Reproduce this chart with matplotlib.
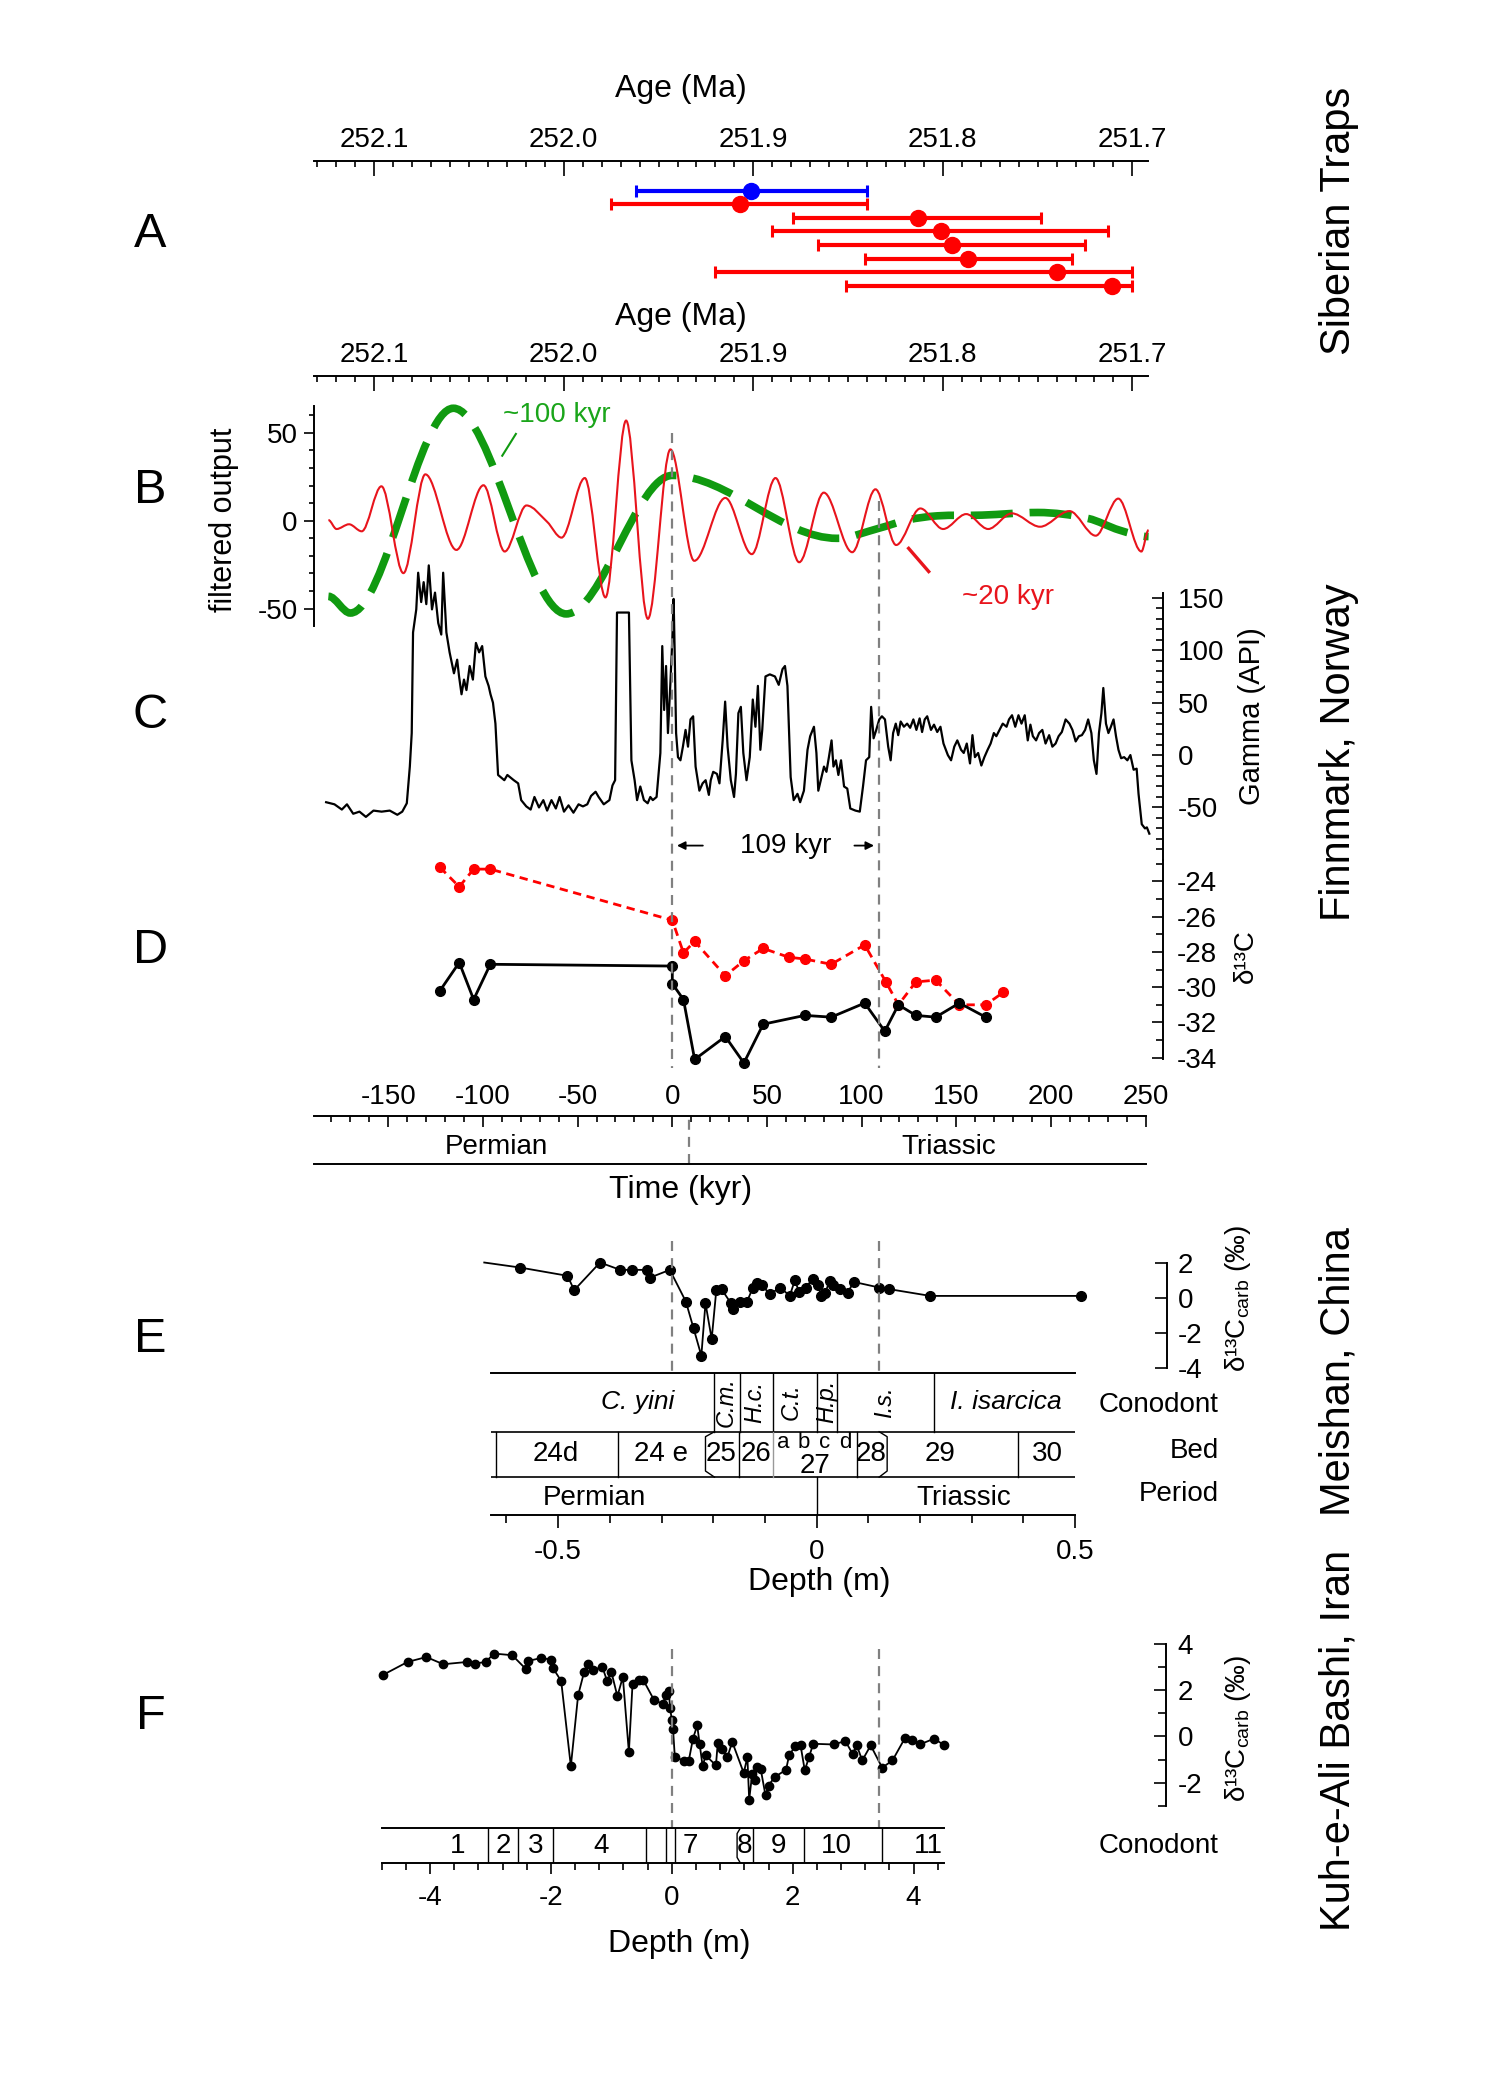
import numpy as np
import matplotlib
matplotlib.use("Agg")
import matplotlib.pyplot as plt
import matplotlib.transforms as mtransforms
from matplotlib.path import Path
from matplotlib.patches import PathPatch
from matplotlib.ticker import MultipleLocator, FixedLocator, FixedFormatter, FormatStrFormatter

plt.rcParams['font.family'] = ['Liberation Sans', 'DejaVu Sans']
plt.rcParams['axes.unicode_minus'] = False
plt.rcParams['mathtext.fontset'] = 'custom'
plt.rcParams['mathtext.rm'] = 'Liberation Sans'
plt.rcParams['mathtext.it'] = 'Liberation Sans:italic'

# ---------------- data ----------------
# A: Siberian Traps ages (Ma), top row first
sib_age = [251.901, 251.907, 251.813, 251.801, 251.795, 251.787, 251.740, 251.711]
sib_err_young = [0.061, 0.067, 0.065, 0.088, 0.070, 0.055, 0.040, 0.011]
sib_err_old = [0.061, 0.068, 0.066, 0.089, 0.071, 0.054, 0.180, 0.140]
sib_color = ['#0000ff', '#ff0000', '#ff0000', '#ff0000', '#ff0000', '#ff0000', '#ff0000', '#ff0000']

# B: filtered output (turning points)
f20_t = [-181.6, -177.3, -170.7, -164.0, -153.6, -142.0, -130.4, -114.0, -99.7, -88.5, -77.0, -66.1,
         -58.5, -46.2, -35.3, -24.4, -12.9, -1.0, 11.6, 28.0, 42.0, 54.5, 67.0, 80.0, 95.0, 107.3,
         118.2, 131.0, 143.0, 155.2, 166.8, 179.3, 194.2, 209.7, 223.6, 235.5, 247.7, 251.5]
f20_v = [0.4, -4.7, -2.0, -6.0, 19.6, -29.8, 26.4, -16.6, 20.2, -17.5, 8.7, -0.6,
         -9.6, 24.3, -43.6, 57.0, -55.8, 40.6, -22.8, 13.0, -19.0, 24.3, -23.6, 16.0, -17.9, 17.9,
         -13.8, 7.0, -4.7, 3.8, -4.7, 4.2, -3.4, 5.5, -8.5, 12.6, -17.5, -5.3]
f100_t = [-181.6, -170.0, -115.6, -56.0, 0.0, 87.0, 109.0, 124.0, 140.0, 163.5, 193.0, 219.6, 236.0, 251.5]
f100_v = [-43.0, -52.5, 64.0, -53.0, 25.8, -10.0, -4.3, 0.4, 2.8, 3.2, 4.7, 1.3, -5.3, -9.0]

# C: gamma log, Finnmark
gam_t = [-182.8, -178.4, -174.5, -171.8, -168.5, -165.2, -161.8, -157.8, -153.5, -149.2, -145.2, -142.6,
         -140.2, -138.6, -137.6, -136.9, -135.2, -134.2, -132.6, -131.3, -129.9, -128.6, -126.9, -125.3,
         -123.6, -122.0, -121.0, -119.3, -117.6, -115.3, -113.6, -112.6, -111.3, -110.0, -108.7, -107.0,
         -105.3, -103.7, -102.0, -100.4, -98.7, -97.0, -96.0, -94.7, -93.4, -92.0, -88.7, -87.1,
         -83.7, -81.4, -79.8, -77.1, -74.8, -72.8, -70.4, -68.1, -66.1, -63.8, -61.5, -59.5,
         -57.2, -54.8, -52.2, -49.5, -47.2, -44.9, -42.9, -40.5, -38.9, -36.2, -33.2, -31.6,
         -30.2, -29.2, -22.9, -21.6, -19.9, -18.6, -16.9, -15.0, -13.0, -11.6, -10.3, -8.3,
         -6.3, -5.3, -4.3, -3.3, -2.3, -1.0, 0.0, 0.7, 1.3, 2.0, 3.0, 4.3,
         5.6, 7.0, 8.3, 9.6, 11.0, 12.3, 14.3, 16.0, 17.6, 19.3, 20.3, 21.6,
         23.6, 24.9, 26.6, 27.9, 29.2, 30.9, 32.6, 33.6, 34.9, 36.2, 37.5, 39.2,
         40.9, 42.5, 43.9, 45.2, 46.5, 47.5, 49.2, 51.5, 54.2, 56.2, 58.2, 59.5,
         60.8, 62.5, 64.1, 66.1, 67.5, 69.5, 71.4, 72.8, 74.8, 76.1, 77.1, 78.8,
         80.1, 81.4, 82.7, 84.1, 85.1, 86.4, 87.7, 89.1, 90.7, 92.4, 94.0, 96.7,
         99.0, 100.7, 102.3, 104.0, 105.0, 106.3, 107.7, 109.3, 110.7, 112.3, 114.0, 115.3,
         116.6, 118.0, 119.3, 120.6, 122.3, 124.0, 125.6, 127.3, 128.9, 130.6, 131.9, 133.3,
         134.6, 136.6, 138.2, 139.9, 141.6, 143.2, 145.5, 147.2, 148.9, 150.5, 152.5, 153.9,
         155.5, 157.2, 158.5, 159.8, 161.5, 163.2, 164.8, 166.5, 168.1, 169.8, 171.1, 172.8,
         174.5, 176.5, 177.8, 179.4, 181.1, 182.8, 184.4, 186.1, 187.7, 189.1, 190.4, 192.1,
         193.7, 195.4, 197.1, 199.0, 200.7, 202.4, 204.0, 205.7, 207.7, 209.7, 211.3, 213.0,
         214.7, 216.3, 218.0, 219.6, 221.3, 222.6, 224.0, 225.3, 226.6, 227.6, 229.0, 230.3,
         231.6, 233.0, 234.3, 235.6, 237.0, 238.6, 240.3, 241.9, 243.6, 245.2, 246.2, 247.9,
         249.6, 250.6, 251.9]
gam_v = [-45, -47, -52, -47, -56, -54, -59, -53, -54, -53, -57, -54,
         -46, -11, 21, 117, 139, 174, 146, 165, 144, 181, 139, 155,
         126, 115, 174, 117, 98, 78, 91, 75, 58, 72, 62, 85,
         72, 107, 98, 104, 75, 66, 58, 50, 30, -19, -24, -19,
         -24, -27, -43, -49, -52, -40, -50, -43, -53, -43, -51, -40,
         -54, -48, -55, -47, -49, -47, -39, -35, -40, -47, -43, -29,
         -24, 136, 136, -5, -24, -43, -30, -43, -46, -40, -43, -40,
         2, 104, 43, 85, 21, 69, 110, 149, 94, 21, -2, -5,
         8, 24, 8, 34, 37, -11, -34, -27, -24, -38, -24, -16,
         -18, -27, 14, 51, 8, -24, -40, -18, 40, 46, 2, -24,
         -2, 53, 27, 66, 5, 24, 75, 77, 75, 67, 82, 85,
         66, -21, -43, -37, -45, -34, 5, 18, 27, 2, -34, -21,
         -11, -16, -2, 14, -11, -5, -19, -5, -30, -32, -51, -53,
         -54, -30, -5, -2, 46, 16, 24, 34, 37, 34, 8, -5,
         21, 30, 19, 32, 27, 30, 26, 34, 24, 35, 22, 34,
         37, 24, 29, 22, 27, 11, 0, -5, 8, 14, 5, 2,
         11, -8, 19, -2, 2, -10, -2, 5, 11, 21, 18, 24,
         30, 27, 34, 38, 27, 38, 30, 38, 14, 29, 18, 14,
         21, 24, 11, 19, 8, 11, 18, 22, 34, 30, 24, 13,
         18, 19, 24, 34, 21, -5, -18, 21, 40, 64, 30, 21,
         27, 34, 18, 5, -3, -2, -5, 0, -14, -13, -37, -66,
         -70, -69, -75]

# D: d13C org, Finnmark
d13_red_t = [-122.7, -112.5, -104.9, -96.1, 0.0, 5.9, 11.8, 28.0, 37.8, 48.0, 61.5, 70.0, 83.9, 101.6,
             112.8, 119.4, 128.6, 139.1, 151.6, 165.5, 174.7]
d13_red_v = [-23.2, -24.3, -23.3, -23.3, -26.2, -28.05, -27.4, -29.35, -28.5, -27.8, -28.3, -28.4, -28.7,
             -27.6, -29.7, -31.0, -29.7, -29.6, -31.0, -31.0, -30.3]
d13_blk_t = [-122.7, -112.5, -104.9, -96.1, 0.0, 0.0, 5.9, 11.8, 28.0, 37.8, 48.0, 70.0, 83.9, 101.6,
             112.2, 119.4, 128.6, 139.1, 151.6, 165.5]
d13_blk_v = [-30.2, -28.6, -30.7, -28.7, -28.8, -29.8, -30.7, -34.1, -32.8, -34.3, -32.1, -31.6, -31.7,
             -30.9, -32.5, -31.0, -31.6, -31.7, -30.9, -31.7]

# E: Meishan d13C carb vs depth (m)
mei_x = [-0.643, -0.573, -0.482, -0.469, -0.419, -0.380, -0.357, -0.329, -0.322, -0.284, -0.253, -0.238,
         -0.223, -0.215, -0.203, -0.194, -0.184, -0.166, -0.162, -0.149, -0.135, -0.123, -0.115, -0.105,
         -0.091, -0.070, -0.052, -0.042, -0.034, -0.021, -0.007, 0.003, 0.009, 0.017, 0.025, 0.032,
         0.045, 0.060, 0.072, 0.121, 0.140, 0.220, 0.511]
mei_v = [2.02, 1.73, 1.26, 0.44, 2.02, 1.60, 1.60, 1.60, 1.16, 1.60, -0.21, -1.75,
         -3.31, -0.30, -2.36, 0.46, 0.50, -0.30, -0.61, -0.21, -0.23, 0.59, 0.84, 0.72,
         0.21, 0.59, 0.11, 1.01, 0.34, 0.59, 1.10, 0.72, 0.11, 0.30, 0.97, 0.72,
         0.50, 0.30, 0.91, 0.59, 0.50, 0.11, 0.11]
mei_cono_edges = [-0.1976, -0.1487, -0.0845, 0.0, 0.0397, 0.228]
mei_cono_names = ['C. yini', 'C.m.', 'H.c.', 'C.t.', 'H.p.', 'I.s.', 'I. isarcica']
mei_cono_pos = [-0.347, -0.174, -0.120, -0.050, 0.020, 0.131, 0.366]
mei_bed_edges = [-0.62, -0.385, -0.151, -0.0845, 0.0774, 0.389]
mei_bed_names = ['24d', '24 e', '25', '26', '27', '28', '29', '30']
mei_bed_pos = [-0.505, -0.301, -0.184, -0.118, -0.004, 0.106, 0.238, 0.447]
mei_bed27_sub = ['a', 'b', 'c', 'd']
mei_bed27_pos = [-0.064, -0.024, 0.016, 0.055]
mei_period_pos = [-0.429, 0.284]
mei_marks = [-0.279, 0.121]

# F: Kuh-e-Ali Bashi d13C carb vs depth (m)
kuh_x = [-4.77, -4.37, -4.06, -3.78, -3.38, -3.25, -3.08, -2.94, -2.64, -2.42, -2.38, -2.16,
         -2.00, -1.97, -1.83, -1.67, -1.55, -1.45, -1.39, -1.31, -1.15, -1.07, -1.00, -0.90,
         -0.81, -0.71, -0.65, -0.55, -0.47, -0.29, -0.15, -0.10, -0.05, -0.03, 0.00, 0.02,
         0.05, 0.21, 0.28, 0.35, 0.42, 0.46, 0.51, 0.56, 0.73, 0.76, 0.83, 0.92,
         1.00, 1.19, 1.25, 1.28, 1.33, 1.38, 1.41, 1.47, 1.55, 1.60, 1.70, 1.89,
         1.94, 2.04, 2.13, 2.20, 2.27, 2.34, 2.68, 2.87, 2.99, 3.06, 3.15, 3.29,
         3.48, 3.65, 3.86, 3.98, 4.10, 4.34, 4.51]
kuh_v = [2.66, 3.21, 3.42, 3.11, 3.21, 3.14, 3.21, 3.57, 3.50, 2.92, 3.25, 3.38,
         3.31, 2.96, 2.39, -1.29, 1.77, 2.78, 3.14, 2.85, 3.00, 2.39, 2.78, 1.73,
         2.56, -0.68, 2.24, 2.42, 2.42, 1.55, 1.41, 1.77, 1.96, 1.24, 0.72, 0.33,
         -0.89, -1.06, -1.06, -0.10, 0.47, -0.32, -1.29, -0.82, -1.25, -0.29, -0.53, -0.89,
         -0.24, -1.58, -0.89, -2.73, -1.61, -1.90, -1.32, -1.40, -2.55, -2.12, -1.76, -1.44,
         -0.82, -0.43, -0.39, -1.47, -0.89, -0.32, -0.35, -0.20, -0.75, -0.39, -1.04, -0.39,
         -1.35, -1.04, -0.06, -0.14, -0.35, -0.10, -0.39]
kuh_cono_edges = [-3.04, -2.55, -1.97, -0.42, -0.10, 0.05, 1.35, 2.18, 3.48]
kuh_cono_names = ['1', '2', '3', '4', '7', '8', '9', '10', '11']
kuh_cono_pos = [-3.54, -2.78, -2.26, -1.17, 0.30, 1.21, 1.76, 2.72, 4.24]
kuh_bed8_left = 1.08
kuh_marks = [0.0, 3.43]

time_marks = [0.0, 109.0]
boundary_kyr = 9.0

# ---------------- layout helpers (reference px, 1123 x 1568) ----------------
W, H = 1123.0, 1568.0
fig = plt.figure(figsize=(14.96, 20.88), dpi=100)
GRAY = '#808080'


def frame(l, t, r, b):
    ax = fig.add_axes([l / W, 1 - b / H, (r - l) / W, (b - t) / H])
    ax.patch.set_visible(False)
    return ax


def ftext(x, y, s, **kw):
    kw.setdefault('ha', 'center')
    kw.setdefault('va', 'center')
    fig.text(x / W, 1 - y / H, s, **kw)


def only_spines(ax, keep):
    for s in ['left', 'right', 'top', 'bottom']:
        ax.spines[s].set_visible(s in keep)
        ax.spines[s].set_linewidth(1.4)


def vdash(ax, x, y0, y1):
    tr = mtransforms.blended_transform_factory(ax.transData, fig.transFigure)
    ax.plot([x, x], [1 - y0 / H, 1 - y1 / H], transform=tr, color=GRAY, lw=1.6,
            ls=(0, (4.5, 3.2)), clip_on=False)


def smooth_line(ax, ts, vs, **kw):
    ts = np.asarray(ts, float)
    vs = np.asarray(vs, float)
    n = len(ts)
    slope = np.zeros(n)
    for i in range(1, n - 1):
        if (vs[i] - vs[i - 1]) * (vs[i + 1] - vs[i]) > 0:
            slope[i] = (vs[i + 1] - vs[i - 1]) / (ts[i + 1] - ts[i - 1])
    verts = [(ts[0], vs[0])]
    codes = [Path.MOVETO]
    for i in range(1, n):
        h = (ts[i] - ts[i - 1]) / 3.0
        verts += [(ts[i - 1] + h, vs[i - 1] + slope[i - 1] * h), (ts[i] - h, vs[i] - slope[i] * h), (ts[i], vs[i])]
        codes += [Path.CURVE4] * 3
    ax.add_patch(PathPatch(Path(verts, codes), fill=False, clip_on=False, **kw))


TICK = 20
LAB = 23

# ---------------- A: Siberian Traps ----------------
age_lim = (252.1316, 251.6916)


def age_axis(ax):
    ax.set_xlim(age_lim)
    only_spines(ax, ['top'])
    ax.xaxis.set_ticks_position('top')
    ax.xaxis.set_major_locator(MultipleLocator(0.1))
    ax.xaxis.set_minor_locator(MultipleLocator(0.01))
    ax.xaxis.set_major_formatter(FormatStrFormatter('%.1f'))
    ax.tick_params(axis='x', which='both', direction='in', top=True, bottom=False,
                   labeltop=True, labelbottom=False, labelsize=TICK, pad=6, width=1.2)
    ax.tick_params(axis='x', which='major', length=11)
    ax.tick_params(axis='x', which='minor', length=4.5)
    ax.set_yticks([])


axA = frame(236, 121, 862, 225)
age_axis(axA)
axA.set_ylim(8.01, -2.16)
for i, (a, ey, eo, c) in enumerate(zip(sib_age, sib_err_young, sib_err_old, sib_color)):
    axA.errorbar([a], [i], xerr=[[ey], [eo]], fmt='o', color=c, ms=11.5, lw=3,
                 capsize=4, capthick=2.2)
ftext(511, 67, 'Age (Ma)', fontsize=LAB)

axA2 = frame(236, 282.7, 862, 292)
age_axis(axA2)
ftext(511, 238, 'Age (Ma)', fontsize=LAB)

# ---------------- B, C, D: Finnmark time series ----------------
t_lim = (-189.0, 259.1)

axB = frame(236, 305, 873, 470)
axB.set_xlim(t_lim)
axB.set_ylim(-59.8, 65.2)
only_spines(axB, ['left'])
axB.set_xticks([])
axB.yaxis.set_major_locator(FixedLocator([-50, 0, 50]))
axB.yaxis.set_minor_locator(MultipleLocator(10))
axB.tick_params(axis='y', which='both', direction='out', labelsize=TICK, pad=5, width=1.2)
axB.tick_params(axis='y', which='major', length=7)
axB.tick_params(axis='y', which='minor', length=3.5)
smooth_line(axB, f100_t, f100_v, edgecolor='#109a10', lw=5.5, ls=(0, (5.5, 2.2)), capstyle='butt')
smooth_line(axB, f20_t, f20_v, edgecolor='#e8141c', lw=1.5)
axB.plot([-89.8, -82.6], [37, 49.4], color='#109a10', lw=1.5)
axB.plot([124.8, 135.4], [-15.7, -28.9], color='#e8141c', lw=2.4)
ftext(418, 312, '~100 kyr', fontsize=TICK, color='#1aa51a')
ftext(757, 448, '~20 kyr', fontsize=TICK, color='#e8141c')
ftext(168, 390, 'filtered output', fontsize=LAB - 1, rotation=90)

axC = frame(236, 440, 873, 655)
axC.set_xlim(t_lim)
axC.set_ylim(-111.8, 161.4)
only_spines(axC, ['right'])
axC.spines['right'].set_bounds(-100, 155)
axC.set_xticks([])
axC.yaxis.set_ticks_position('right')
axC.yaxis.set_major_locator(FixedLocator([-50, 0, 50, 100, 150]))
axC.yaxis.set_minor_locator(FixedLocator(np.arange(-90, 151, 10)))
axC.tick_params(axis='y', which='both', direction='in', labelsize=TICK, pad=11, width=1.2)
axC.tick_params(axis='y', which='major', length=8)
axC.tick_params(axis='y', which='minor', length=5)
axC.plot(gam_t, gam_v, color='black', lw=1.6, clip_on=False)
ftext(940, 538, 'Gamma (API)', fontsize=LAB - 2, rotation=90)

arrow_y = 1 - 635 / H
axC.annotate('', xy=(time_marks[0] + 1, arrow_y), xytext=(17.6, arrow_y),
             xycoords=('data', 'figure fraction'), textcoords=('data', 'figure fraction'),
             arrowprops=dict(arrowstyle='-|>', color='black', lw=1.3, mutation_scale=12))
axC.annotate('', xy=(time_marks[1] - 1, arrow_y), xytext=(94.7, arrow_y),
             xycoords=('data', 'figure fraction'), textcoords=('data', 'figure fraction'),
             arrowprops=dict(arrowstyle='-|>', color='black', lw=1.3, mutation_scale=12))
ftext(590, 635, '109 kyr', fontsize=TICK)

axD = frame(236, 645, 873, 805)
axD.set_xlim(t_lim)
axD.set_ylim(-34.81, -22.72)
only_spines(axD, ['right'])
axD.spines['right'].set_bounds(-34.1, -22.8)
axD.set_xticks([])
axD.yaxis.set_ticks_position('right')
axD.yaxis.set_major_locator(FixedLocator([-34, -32, -30, -28, -26, -24]))
axD.yaxis.set_minor_locator(FixedLocator([-33, -31, -29, -27, -25, -23]))
axD.tick_params(axis='y', which='both', direction='in', labelsize=TICK, pad=10, width=1.2)
axD.tick_params(axis='y', which='major', length=8)
axD.tick_params(axis='y', which='minor', length=5)
axD.plot(d13_red_t, d13_red_v, color='#ff0000', lw=2, ls=(0, (3, 2)), marker='o', ms=7, clip_on=False)
axD.plot(d13_blk_t, d13_blk_v, color='black', lw=2, marker='o', ms=7, clip_on=False)
ftext(935, 718, 'δ¹³C', fontsize=LAB - 3, rotation=90)

vdash(axD, time_marks[0], 325, 802)
vdash(axD, time_marks[1], 376, 802)

# time band with Permian / Triassic
axT = frame(236, 838, 860, 874)
axT.set_xlim(-189, 250)
axT.set_ylim(0, 1)
only_spines(axT, ['top', 'bottom'])
axT.set_yticks([])
axT.xaxis.set_ticks_position('top')
axT.xaxis.set_major_locator(MultipleLocator(50))
axT.xaxis.set_minor_locator(MultipleLocator(10))
axT.tick_params(axis='x', which='both', direction='in', top=True, bottom=False,
                labeltop=True, labelbottom=False, labelsize=TICK, pad=4, width=1.2)
axT.tick_params(axis='x', which='major', length=8)
axT.tick_params(axis='x', which='minor', length=4.5)
axT.plot([boundary_kyr, boundary_kyr], [0, 1], color=GRAY, lw=1.6, ls=(0, (4.5, 3.2)))
axT.text(-93, 0.36, 'Permian', fontsize=TICK, ha='center', va='center')
axT.text(146, 0.36, 'Triassic', fontsize=TICK, ha='center', va='center')
ftext(511, 894, 'Time (kyr)', fontsize=LAB)

# ---------------- E: Meishan ----------------
e0, es = 613.0, 388.0
axE = frame(360, 920, 876, 1032)
axE.set_xlim((360 - e0) / es, (876 - e0) / es)
axE.set_ylim(-4.37, 4.16)
only_spines(axE, ['right'])
axE.spines['right'].set_bounds(-4, 2)
axE.set_xticks([])
axE.yaxis.set_ticks_position('right')
axE.yaxis.set_major_locator(FixedLocator([-4, -2, 0, 2]))
axE.tick_params(axis='y', which='major', direction='in', labelsize=TICK, pad=8, width=1.2, length=9)
axE.plot(mei_x, mei_v, color='black', lw=1.3, marker='o', ms=7, markevery=list(range(1, len(mei_x))))
for m in mei_marks:
    vdash(axE, m, 932, 1031)
ftext(929, 975, 'δ¹³C$_{\\mathrm{carb}}$ (‰)', fontsize=LAB - 3, rotation=90)

eb_l, eb_r = e0 - 0.63 * es, e0 + 0.5 * es
axEb = frame(eb_l, 1031.4, eb_r, 1137.9)
axEb.set_xlim(-0.63, 0.5)
axEb.set_ylim(0, 1)
only_spines(axEb, ['top', 'bottom'])
axEb.set_yticks([])
axEb.xaxis.set_major_locator(FixedLocator([-0.5, 0, 0.5]))
axEb.xaxis.set_major_formatter(FixedFormatter(['-0.5', '0', '0.5']))
axEb.xaxis.set_minor_locator(MultipleLocator(0.1))
axEb.tick_params(axis='x', which='both', direction='out', labelsize=TICK, pad=8, width=1.2)
axEb.tick_params(axis='x', which='major', length=9)
axEb.tick_params(axis='x', which='minor', length=6)
r_cb, r_bp = 0.589, 0.269
axEb.axhline(r_cb, color='black', lw=1.2)
axEb.axhline(r_bp, color='black', lw=1.2)
for x in mei_cono_edges:
    axEb.plot([x, x], [r_cb, 1], color='black', lw=1.0)
for name, x in zip(mei_cono_names, mei_cono_pos):
    rot = 90 if len(name) == 4 and name[1] == '.' else 0
    axEb.text(x, 0.80, name, fontsize=19 if rot == 0 else 17, style='italic', rotation=rot,
              ha='center', va='center')
for i, x in enumerate(mei_bed_edges):
    axEb.plot([x, x], [r_bp, r_cb], color='#999999' if i == 3 else 'black', lw=1.0)
# bracketed beds 25 and 28
axEb.plot([-0.1976, -0.215, -0.215, -0.1976], [r_cb, 0.554, 0.312, r_bp], color='black', lw=1.0)
axEb.plot([0.121, 0.1365, 0.1365, 0.121], [r_cb, 0.554, 0.312, r_bp], color='black', lw=1.0)
for name, x in zip(mei_bed_names, mei_bed_pos):
    axEb.text(x, 0.35 if name == '27' else 0.43, name, fontsize=TICK, ha='center', va='center')
for name, x in zip(mei_bed27_sub, mei_bed27_pos):
    axEb.text(x, 0.515, name, fontsize=16, ha='center', va='center')
axEb.plot([0, 0], [0, r_bp], color='black', lw=1.0)
axEb.text(mei_period_pos[0], 0.12, 'Permian', fontsize=TICK, ha='center', va='center')
axEb.text(mei_period_pos[1], 0.12, 'Triassic', fontsize=TICK, ha='center', va='center')
ftext(915, 1055, 'Conodont', fontsize=TICK, ha='right')
ftext(915, 1090, 'Bed', fontsize=TICK, ha='right')
ftext(915, 1122, 'Period', fontsize=TICK, ha='right')
ftext(615, 1188, 'Depth (m)', fontsize=LAB)

# ---------------- F: Kuh-e-Ali Bashi ----------------
f0, fs = 504.3, 45.38
axF = frame(280, 1220, 875.5, 1360)
axF.set_xlim((280 - f0) / fs, (875.5 - f0) / fs)
axF.set_ylim(-3.22, 4.82)
only_spines(axF, ['right'])
axF.spines['right'].set_bounds(-3, 4)
axF.set_xticks([])
axF.yaxis.set_ticks_position('right')
axF.yaxis.set_major_locator(FixedLocator([-2, 0, 2, 4]))
axF.yaxis.set_minor_locator(FixedLocator([-3, -1, 1, 3]))
axF.tick_params(axis='y', which='both', direction='in', labelsize=TICK, pad=8, width=1.2)
axF.tick_params(axis='y', which='major', length=9)
axF.tick_params(axis='y', which='minor', length=6)
axF.plot(kuh_x, kuh_v, color='black', lw=1.3, marker='o', ms=6)
for m in kuh_marks:
    vdash(axF, m, 1238, 1373)
ftext(929, 1298, 'δ¹³C$_{\\mathrm{carb}}$ (‰)', fontsize=LAB - 3, rotation=90)

axFb = frame(f0 - 4.8 * fs, 1373.1, f0 + 4.5 * fs, 1398.7)
axFb.set_xlim(-4.8, 4.5)
axFb.set_ylim(0, 1)
only_spines(axFb, ['top', 'bottom'])
axFb.set_yticks([])
axFb.xaxis.set_major_locator(FixedLocator([-4, -2, 0, 2, 4]))
axFb.xaxis.set_major_formatter(FixedFormatter(['-4', '-2', '0', '2', '4']))
axFb.xaxis.set_minor_locator(FixedLocator(np.arange(-4.8, 4.5, 0.4)))
axFb.tick_params(axis='x', which='both', direction='out', labelsize=TICK, pad=8, width=1.2)
axFb.tick_params(axis='x', which='major', length=8)
axFb.tick_params(axis='x', which='minor', length=5)
for x in kuh_cono_edges:
    axFb.plot([x, x], [0, 1], color='black', lw=1.0)
axFb.plot([kuh_bed8_left + 0.05, kuh_bed8_left, kuh_bed8_left, kuh_bed8_left + 0.05],
          [1, 0.85, 0.15, 0], color='black', lw=1.0)
for name, x in zip(kuh_cono_names, kuh_cono_pos):
    axFb.text(x, 0.5, name, fontsize=TICK, ha='center', va='center')
ftext(915, 1386, 'Conodont', fontsize=TICK, ha='right')
ftext(510, 1460, 'Depth (m)', fontsize=LAB)

# ---------------- panel letters and site names ----------------
for letter, y in zip('ABCDEF', [176, 368, 537, 714, 1006, 1289]):
    ftext(113, y, letter, fontsize=35)
for site, y in zip(['Siberian Traps', 'Finnmark, Norway', 'Meishan, China', 'Kuh-e-Ali Bashi, Iran'],
                   [166, 565, 1030, 1307]):
    ftext(1005, y, site, fontsize=30, rotation=90)

fig.savefig('out.png', dpi=100)
